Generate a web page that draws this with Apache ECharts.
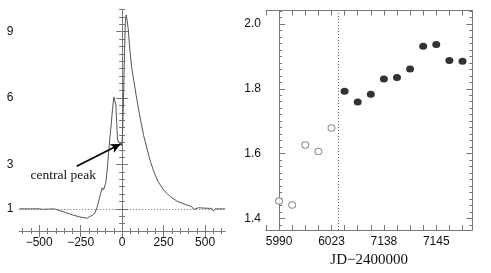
<!DOCTYPE html>
<html><head><meta charset="utf-8">
<script src="https://cdn.jsdelivr.net/npm/echarts@6/dist/echarts.min.js"></script>
<style>html,body{margin:0;padding:0;background:#fff}#c{width:491px;height:273px}</style>
</head><body><div id="c"></div>
<script>
// Left panel: line profile (velocity vs normalized flux)
const velocity = [-620,-560,-500,-480,-470,-440,-410,-380,-340,-300,-260,-230,-210,-195,-180,-165,-150,-140,-130,-120,-112,-105,-98,-90,-82,-74,-66,-58,-50,-44,-38,-33,-28,-22,-15,-8,-3,2,8,14,19,24,30,37,45,57,70,85,100,115,130,150,170,190,215,250,290,330,380,420,430,460,500,540,550,560,590,620];
const flux = [1.0,1.0,1.0,0.98,0.93,0.99,1.0,0.93,0.83,0.73,0.64,0.6,0.58,0.66,0.7,0.8,1.1,1.4,1.7,1.95,1.85,1.78,2.2,2.8,3.5,4.2,4.8,5.5,6.05,6.1,5.7,4.9,4.15,4.0,4.05,3.95,3.85,4.3,5.9,8.0,9.4,9.75,9.5,9.1,8.3,7.4,6.8,6.1,5.45,4.85,4.3,3.7,3.15,2.7,2.25,1.85,1.55,1.35,1.2,1.1,0.97,1.05,1.03,1.02,0.9,1.0,1.0,1.0];
const leftXTicks = [-500,-250,0,250,500];
const leftYTicks = [1,3,6,9];
const continuum = 1;
const arrowFrom = [-274, 2.92];
const arrowTo = [-9, 3.93];
const annotationText = 'central peak';
const annotationAt = [-355, 2.5];

// Right panel: time series
const jdLabels = {0:'5990', 4:'6023', 8:'7138', 12:'7145'};
const openIdx = [0,1,2,3,4];
const openVals = [1.454,1.442,1.627,1.607,1.679];
const filledIdx = [5,6,7,8,9,10,11,12,13,14];
const filledVals = [1.792,1.759,1.783,1.830,1.835,1.861,1.931,1.936,1.887,1.885];
const rightYTicks = [1.4,1.6,1.8,2.0];
const dividerX = 4.5;
const xTitle = 'JD\u22122400000';

function range(a,b,s){const r=[];for(let v=a;v<=b+1e-9;v+=s)r.push(+v.toFixed(4));return r;}

const axisCol = '#777';
const labelFont = {fontFamily:'Liberation Sans, Arial, sans-serif', fontSize:12, color:'#111'};
function tickAxis(extra, vals, len, showLine){
  return Object.assign({
    axisLine:{show:showLine, lineStyle:{color:axisCol,width:1}},
    axisTick:{show:true, inside:true, length:len, customValues:vals, lineStyle:{color:axisCol}},
    axisLabel:{show:false}, splitLine:{show:false}
  }, extra);
}

const chart = echarts.init(document.getElementById('c'), null, {renderer:'canvas'});
const g0 = {left:19.3, top:9.5, width:205.7, height:221.5};
const g1 = {left:266, top:10.5, width:206.3, height:221.5};
const xr0 = {min:-620, max:620};
const yr0 = {min:0, max:10};
const xr1 = {min:-1, max:14.75};
const yr1 = {min:1.365, max:2.041};

const xAxes = [
  Object.assign(tickAxis({type:'value', gridIndex:0, position:'bottom'}, leftXTicks, 6, true), xr0, {
    axisLabel:Object.assign({show:true, customValues:leftXTicks, margin:6, formatter:v=>String(v).replace('-','\u2212')}, labelFont)}),
  Object.assign(tickAxis({type:'value', gridIndex:0, position:'bottom'}, range(-600,600,50), 3, false), xr0),
  Object.assign(tickAxis({type:'value', gridIndex:0, position:'top'}, leftXTicks, 6, true), xr0),
  Object.assign(tickAxis({type:'value', gridIndex:0, position:'top'}, range(-600,600,50), 3, false), xr0),
  Object.assign(tickAxis({type:'value', gridIndex:1, position:'bottom'}, range(-1,14,1), 5, true), xr1, {
    axisLabel:Object.assign({show:true, customValues:Object.keys(jdLabels).map(Number), margin:6, formatter:v=>jdLabels[Math.round(v)]||''}, labelFont),
    name:xTitle, nameLocation:'middle', nameGap:23,
    nameTextStyle:{fontFamily:'Liberation Serif, Times New Roman, serif', fontSize:15, color:'#111'}}),
  Object.assign(tickAxis({type:'value', gridIndex:1, position:'top'}, range(-1,14,1), 5, true), xr1)
];
const yAxes = [
  Object.assign(tickAxis({type:'value', gridIndex:0, position:'left'}, leftYTicks, 6, true), yr0, {
    axisLabel:Object.assign({show:true, customValues:leftYTicks, margin:6}, labelFont)}),
  Object.assign(tickAxis({type:'value', gridIndex:0, position:'left'}, range(0,10,1/3), 3, false), yr0),
  Object.assign(tickAxis({type:'value', gridIndex:0, position:'right'}, leftYTicks, 6, true), yr0),
  Object.assign(tickAxis({type:'value', gridIndex:0, position:'right'}, range(0,10,1/3), 3, false), yr0),
  Object.assign(tickAxis({type:'value', gridIndex:1, position:'left'}, rightYTicks, 6, true), yr1, {
    axisLabel:Object.assign({show:true, customValues:rightYTicks, margin:5, formatter:v=>v.toFixed(1)}, labelFont)}),
  Object.assign(tickAxis({type:'value', gridIndex:1, position:'left'}, range(1.38,2.04,0.02), 3, false), yr1),
  Object.assign(tickAxis({type:'value', gridIndex:1, position:'right'}, rightYTicks, 6, true), yr1),
  Object.assign(tickAxis({type:'value', gridIndex:1, position:'right'}, range(1.38,2.04,0.02), 3, false), yr1)
];

chart.setOption({
  animation:false,
  backgroundColor:'#fff',
  grid:[g0,g1],
  xAxis:xAxes,
  yAxis:yAxes,
  series:[
    {type:'line', xAxisIndex:0, yAxisIndex:0, data:velocity.map((v,i)=>[v,flux[i]]),
     showSymbol:false, lineStyle:{color:'#555', width:1}, silent:true,
     markLine:{silent:true, symbol:['none','none'], label:{show:false},
       data:[{yAxis:continuum, lineStyle:{type:[1,2], color:'#666', width:1}}]}},
    {type:'line', xAxisIndex:0, yAxisIndex:0, data:[], silent:true,
     markLine:{silent:true, symbol:['none','arrow'], symbolSize:[7,10], label:{show:false},
       lineStyle:{color:'#000', width:1.6, type:'solid'},
       data:[[{coord:arrowFrom},{coord:arrowTo}]]},
     markPoint:{silent:true, symbol:'circle', symbolSize:0,
       data:[{coord:annotationAt, label:{show:true, formatter:annotationText, position:'inside',
         fontFamily:'Liberation Serif, Times New Roman, serif', fontSize:13.5, color:'#111'}}]}},
    {type:'scatter', xAxisIndex:4, yAxisIndex:4, data:openIdx.map((x,i)=>[x,openVals[i]]),
     symbol:'circle', symbolSize:[7,6.5], itemStyle:{color:'#fff', borderColor:'#777', borderWidth:1},
     markLine:{silent:true, symbol:['none','none'], label:{show:false},
       data:[{xAxis:dividerX, lineStyle:{type:[1,2], color:'#666', width:1}}]}},
    {type:'scatter', xAxisIndex:4, yAxisIndex:4, data:filledIdx.map((x,i)=>[x,filledVals[i]]),
     symbol:'circle', symbolSize:[8,7], itemStyle:{color:'#000'}}
  ]
});
</script></body></html>
